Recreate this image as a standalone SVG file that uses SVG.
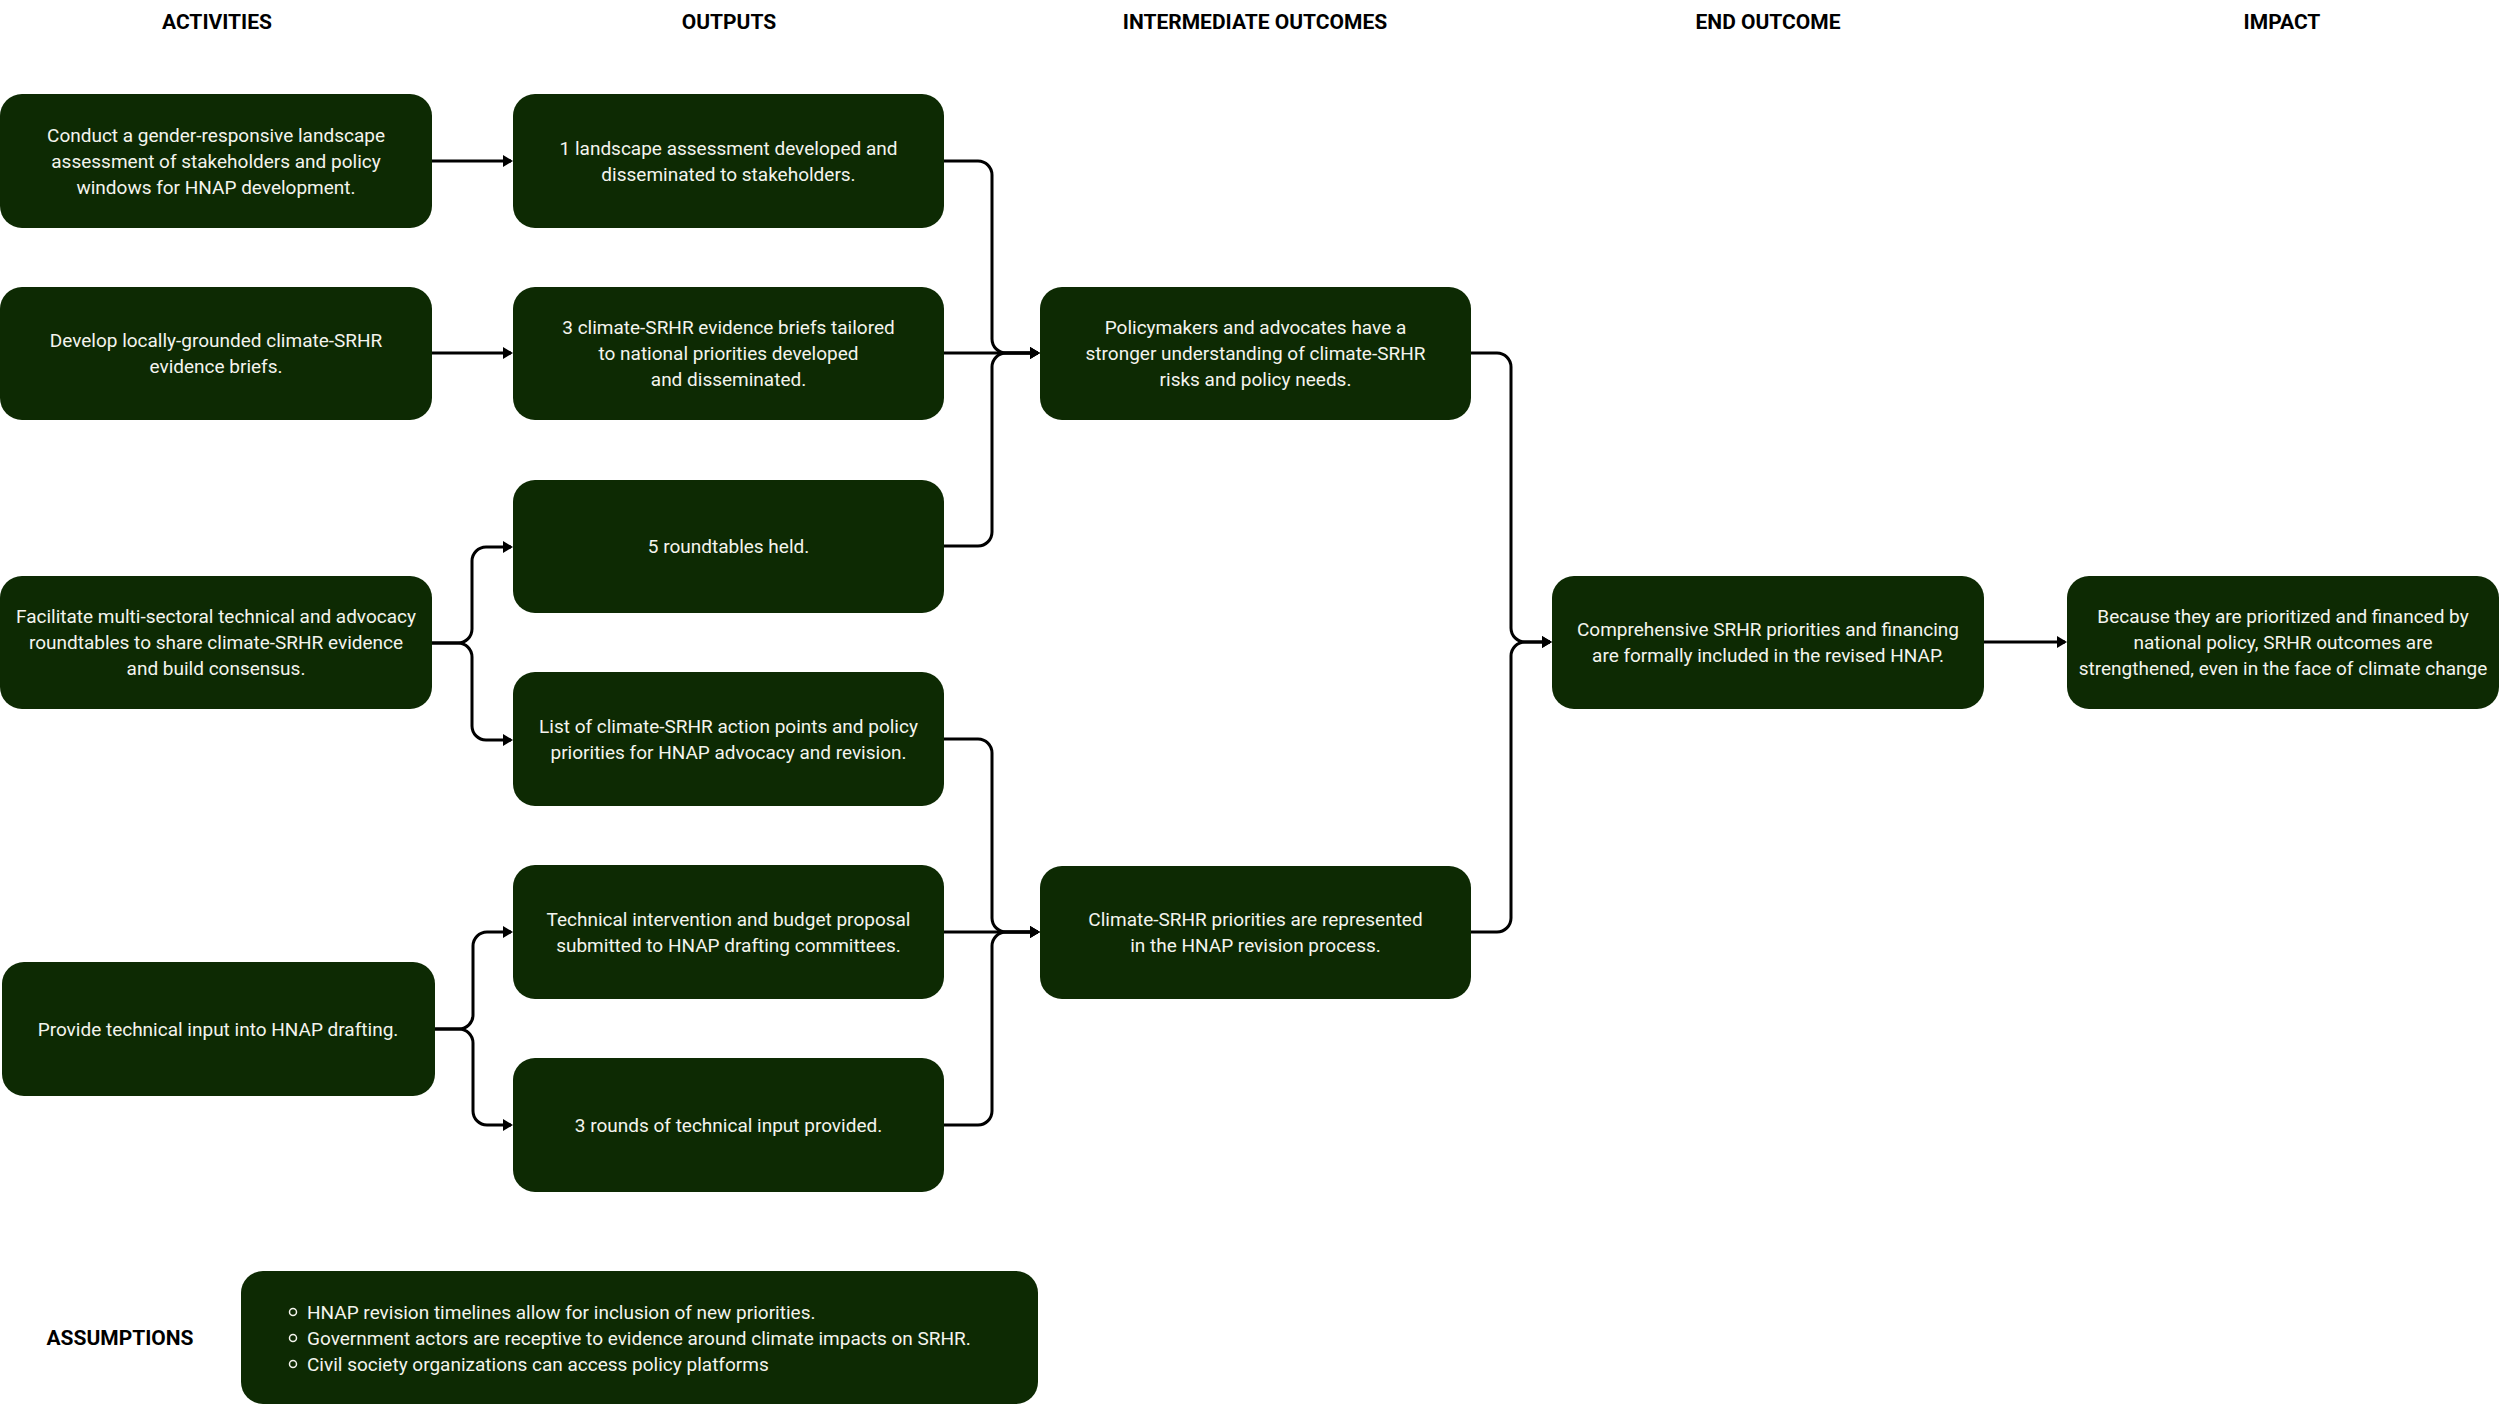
<svg xmlns="http://www.w3.org/2000/svg" width="2500" height="1406" viewBox="0 0 2500 1406">
<style>
.box{fill:#0d2a03;}
.t{font-family:Roboto,"Liberation Sans",sans-serif;font-size:19px;fill:#f4f4ee;text-anchor:middle;}
.tl{font-family:Roboto,"Liberation Sans",sans-serif;font-size:19px;fill:#f4f4ee;}
.h{font-family:Roboto,"Liberation Sans",sans-serif;font-size:21px;font-weight:bold;fill:#000;text-anchor:middle;}
.c{fill:none;stroke:#000;stroke-width:3;marker-end:url(#arr);}
.b{fill:none;stroke:#f4f4ee;stroke-width:1.5;}
</style>
<defs>
<marker id="arr" markerUnits="userSpaceOnUse" markerWidth="10" markerHeight="12" refX="8" refY="6" orient="auto"><path d="M0,0 L10,6 L0,12 z" fill="#000"/></marker>
</defs>
<rect width="2500" height="1406" fill="#fff"/>
<g id="headers">
<text class="h" x="217" y="29">ACTIVITIES</text>
<text class="h" x="729" y="29">OUTPUTS</text>
<text class="h" x="1255" y="29">INTERMEDIATE OUTCOMES</text>
<text class="h" x="1768" y="29">END OUTCOME</text>
<text class="h" x="2282" y="29">IMPACT</text>
<text class="h" x="120" y="1345">ASSUMPTIONS</text>
</g>
<g id="connectors">
<path class="c" d="M432,161 H511"/>
<path class="c" d="M432,353 H511"/>
<path class="c" d="M432,643 H458 A14,14 0 0 0 472,629 V561 A14,14 0 0 1 486,547 H511"/>
<path class="c" d="M432,643 H458 A14,14 0 0 1 472,657 V726 A14,14 0 0 0 486,740 H511"/>
<path class="c" d="M435,1029 H459 A14,14 0 0 0 473,1015 V946 A14,14 0 0 1 487,932 H511"/>
<path class="c" d="M435,1029 H459 A14,14 0 0 1 473,1043 V1111 A14,14 0 0 0 487,1125 H511"/>
<path class="c" d="M944,161 H978 A14,14 0 0 1 992,175 V339 A14,14 0 0 0 1006,353 H1038"/>
<path class="c" d="M944,353 H1038"/>
<path class="c" d="M944,546 H978 A14,14 0 0 0 992,532 V367 A14,14 0 0 1 1006,353 H1038"/>
<path class="c" d="M944,739 H978 A14,14 0 0 1 992,753 V918 A14,14 0 0 0 1006,932 H1038"/>
<path class="c" d="M944,932 H1038"/>
<path class="c" d="M944,1125 H978 A14,14 0 0 0 992,1111 V946 A14,14 0 0 1 1006,932 H1038"/>
<path class="c" d="M1471,353 H1497 A14,14 0 0 1 1511,367 V628 A14,14 0 0 0 1525,642 H1550"/>
<path class="c" d="M1471,932 H1497 A14,14 0 0 0 1511,918 V656 A14,14 0 0 1 1525,642 H1550"/>
<path class="c" d="M1984,642 H2065"/>
</g>
<g id="a1"><rect class="box" x="0" y="94" width="432" height="134" rx="22"/>
<text class="t" x="216" y="142">Conduct a gender-responsive landscape</text>
<text class="t" x="216" y="168">assessment of stakeholders and policy</text>
<text class="t" x="216" y="194">windows for HNAP development.</text></g>
<g id="a2"><rect class="box" x="0" y="287" width="432" height="133" rx="22"/>
<text class="t" x="216" y="347">Develop locally-grounded climate-SRHR</text>
<text class="t" x="216" y="373">evidence briefs.</text></g>
<g id="a3"><rect class="box" x="0" y="576" width="432" height="133" rx="22"/>
<text class="t" x="216" y="623">Facilitate multi-sectoral technical and advocacy</text>
<text class="t" x="216" y="649">roundtables to share climate-SRHR evidence</text>
<text class="t" x="216" y="675">and build consensus.</text></g>
<g id="a4"><rect class="box" x="2" y="962" width="433" height="134" rx="22"/>
<text class="t" x="218" y="1036">Provide technical input into HNAP drafting.</text></g>
<g id="o1"><rect class="box" x="513" y="94" width="431" height="134" rx="22"/>
<text class="t" x="728.5" y="155">1 landscape assessment developed and</text>
<text class="t" x="728.5" y="181">disseminated to stakeholders.</text></g>
<g id="o2"><rect class="box" x="513" y="287" width="431" height="133" rx="22"/>
<text class="t" x="728.5" y="334">3 climate-SRHR evidence briefs tailored</text>
<text class="t" x="728.5" y="360">to national priorities developed</text>
<text class="t" x="728.5" y="386">and disseminated.</text></g>
<g id="o3"><rect class="box" x="513" y="480" width="431" height="133" rx="22"/>
<text class="t" x="728.5" y="553">5 roundtables held.</text></g>
<g id="o4"><rect class="box" x="513" y="672" width="431" height="134" rx="22"/>
<text class="t" x="728.5" y="733">List of climate-SRHR action points and policy</text>
<text class="t" x="728.5" y="759">priorities for HNAP advocacy and revision.</text></g>
<g id="o5"><rect class="box" x="513" y="865" width="431" height="134" rx="22"/>
<text class="t" x="728.5" y="926">Technical intervention and budget proposal</text>
<text class="t" x="728.5" y="952">submitted to HNAP drafting committees.</text></g>
<g id="o6"><rect class="box" x="513" y="1058" width="431" height="134" rx="22"/>
<text class="t" x="728.5" y="1132">3 rounds of technical input provided.</text></g>
<g id="i1"><rect class="box" x="1040" y="287" width="431" height="133" rx="22"/>
<text class="t" x="1255.5" y="334">Policymakers and advocates have a</text>
<text class="t" x="1255.5" y="360">stronger understanding of climate-SRHR</text>
<text class="t" x="1255.5" y="386">risks and policy needs.</text></g>
<g id="i2"><rect class="box" x="1040" y="866" width="431" height="133" rx="22"/>
<text class="t" x="1255.5" y="926">Climate-SRHR priorities are represented</text>
<text class="t" x="1255.5" y="952">in the HNAP revision process.</text></g>
<g id="end"><rect class="box" x="1552" y="576" width="432" height="133" rx="22"/>
<text class="t" x="1768" y="636">Comprehensive SRHR priorities and financing</text>
<text class="t" x="1768" y="662">are formally included in the revised HNAP.</text></g>
<g id="impact"><rect class="box" x="2067" y="576" width="432" height="133" rx="22"/>
<text class="t" x="2283" y="623">Because they are prioritized and financed by</text>
<text class="t" x="2283" y="649">national policy, SRHR outcomes are</text>
<text class="t" x="2283" y="675">strengthened, even in the face of climate change</text></g>
<g id="assumptions"><rect class="box" x="241" y="1271" width="797" height="133" rx="22"/>
<circle class="b" cx="293" cy="1312" r="3.5"/>
<circle class="b" cx="293" cy="1338" r="3.5"/>
<circle class="b" cx="293" cy="1364" r="3.5"/>
<text class="tl" x="307" y="1319">HNAP revision timelines allow for inclusion of new priorities.</text>
<text class="tl" x="307" y="1345">Government actors are receptive to evidence around climate impacts on SRHR.</text>
<text class="tl" x="307" y="1371">Civil society organizations can access policy platforms</text></g>
</svg>
